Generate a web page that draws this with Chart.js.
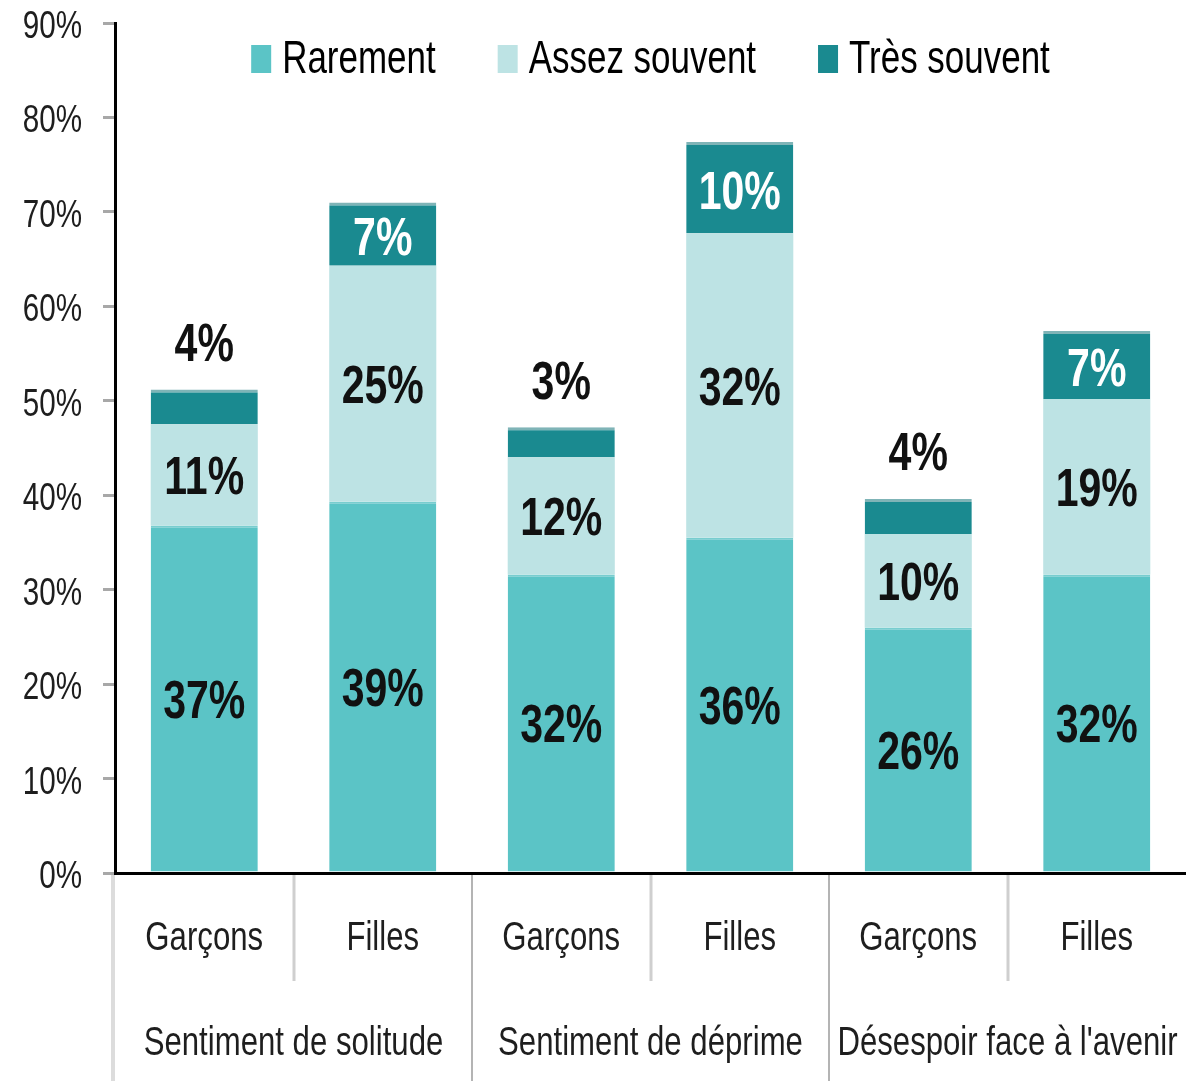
<!DOCTYPE html>
<html>
<head>
<meta charset="utf-8">
<script src="https://cdn.jsdelivr.net/npm/chart.js@4.4.1/dist/chart.umd.min.js"></script>
<style>
  html, body { margin: 0; padding: 0; background: #fff; }
  #wrap { width: 1186px; height: 1081px; position: relative; }
</style>
</head>
<body>
<div id="wrap"><canvas id="chart"></canvas></div>
<script>
// --- data ---
const categories = ['Garçons', 'Filles', 'Garçons', 'Filles', 'Garçons', 'Filles'];
const groups     = ['Sentiment de solitude', 'Sentiment de déprime', "Désespoir face à l'avenir"];
const rarement     = [36.8, 39.3, 31.6, 35.5, 26.0, 31.6];
const assezSouvent = [10.7, 25.0, 12.4, 32.2, 9.9, 18.6];
const tresSouvent  = [3.7, 6.7, 3.2, 9.7, 3.7, 7.2];
const yTicks = [0, 10, 20, 30, 40, 50, 60, 70, 80, 90];

const FONT = "'Liberation Sans', Arial, sans-serif";
const SQ = 0.76;          // horizontal squeeze, the original uses a narrow face
const TEXT = '#111111';

// draw condensed text, y is the middle of the capitals
function squeezeText(ctx, txt, x, y, size, bold, color, align) {
    ctx.save();
    ctx.font = (bold ? 'bold ' : '') + size + 'px ' + FONT;
    ctx.fillStyle = color;
    ctx.textAlign = align || 'center';
    ctx.textBaseline = 'alphabetic';
    ctx.translate(x, y + size * 0.358);
    ctx.scale(SQ, 1);
    ctx.fillText(txt, 0, 0);
    ctx.restore();
}
function textWidth(ctx, txt, size) {
    ctx.save();
    ctx.font = size + 'px ' + FONT;
    const w = ctx.measureText(txt).width * SQ;
    ctx.restore();
    return w;
}

// value labels on each segment
const segmentLabels = {
    id: 'segmentLabels',
    afterDatasetsDraw(chart) {
        const ctx = chart.ctx;
        chart.data.datasets.forEach((ds, di) => {
            const meta = chart.getDatasetMeta(di);
            meta.data.forEach((bar, i) => {
                const v = ds.data[i];
                const txt = Math.round(v) + '%';
                if (di === 2 && v < 5) {
                    squeezeText(ctx, txt, bar.x, bar.y - 48, 54, true, TEXT);
                } else if (di === 2) {
                    squeezeText(ctx, txt, bar.x, (bar.y + bar.base) / 2 + 2, 54, true, '#ffffff');
                } else {
                    squeezeText(ctx, txt, bar.x, (bar.y + bar.base) / 2, 54, true, TEXT);
                }
            });
        });
    }
};

// axis texts, separators and legend
const axisText = {
    id: 'axisText',
    afterDraw(chart) {
        const ctx = chart.ctx;
        const x = chart.scales.x;
        const y = chart.scales.y;
        const area = chart.chartArea;
        const n = categories.length;
        const step = (x.right - x.left) / n;

        // y tick labels
        y.ticks.forEach(t => {
            squeezeText(ctx, t.value + '%', 82, y.getPixelForValue(t.value) + 1, 39, false, '#1e1e1e', 'right');
        });

        // separators under the x axis
        ctx.save();
        for (let k = 0; k < n; k++) {
            const px = Math.round(x.left + step * k);
            ctx.beginPath();
            if (k === 0) {
                ctx.strokeStyle = '#dcdcdc'; ctx.lineWidth = 4;
                ctx.moveTo(px - 2, area.bottom + 2); ctx.lineTo(px - 2, chart.height);
            } else if (k % 2 === 0) {
                ctx.strokeStyle = '#b4b4b4'; ctx.lineWidth = 2;
                ctx.moveTo(px, area.bottom + 2); ctx.lineTo(px, chart.height);
            } else {
                ctx.strokeStyle = '#cfcfcf'; ctx.lineWidth = 3;
                ctx.moveTo(px, area.bottom + 2); ctx.lineTo(px, area.bottom + 108);
            }
            ctx.stroke();
        }
        ctx.restore();

        // category and group labels
        categories.forEach((c, i) => {
            squeezeText(ctx, c, x.getPixelForValue(i), area.bottom + 62, 41, false, '#1e1e1e');
        });
        groups.forEach((g, gi) => {
            const cx = (x.getPixelForValue(gi * 2) + x.getPixelForValue(gi * 2 + 1)) / 2;
            squeezeText(ctx, g, cx, area.bottom + 167, 41, false, '#1e1e1e');
        });

        // legend inside the plot, centred on the plot area
        const LS = 46, BOX_W = 20, BOX_H = 28, GAP = 11, SPACE = 62;
        const items = chart.data.datasets.map(ds => ({
            label: ds.label, color: ds.backgroundColor, w: BOX_W + GAP + textWidth(ctx, ds.label, LS)
        }));
        const total = items.reduce((s, it) => s + it.w, 0) + SPACE * (items.length - 1);
        let lx = (area.left + area.right) / 2 - total / 2;
        const base = 73;
        items.forEach(it => {
            ctx.fillStyle = it.color;
            ctx.fillRect(lx, base - BOX_H, BOX_W, BOX_H);
            squeezeText(ctx, it.label, lx + BOX_W + GAP, base - LS * 0.358, LS, false, '#000', 'left');
            lx += it.w + SPACE;
        });
    }
};

new Chart(document.getElementById('chart'), {
    type: 'bar',
    data: {
        labels: categories,
        datasets: [
            { label: 'Rarement',      data: rarement,     backgroundColor: '#5bc4c6',
              borderColor: '#78cdcf', borderWidth: { top: 2, left: 0, right: 0, bottom: 0 }, borderSkipped: 'bottom' },
            { label: 'Assez souvent', data: assezSouvent, backgroundColor: '#bde3e4' },
            { label: 'Très souvent',  data: tresSouvent,  backgroundColor: '#1a8a90',
              borderColor: '#7fb4b7', borderWidth: { top: 3, left: 0, right: 0, bottom: 0 }, borderSkipped: 'bottom' }
        ]
    },
    options: {
        responsive: true,
        maintainAspectRatio: false,
        animation: false,
        datasets: { bar: { barPercentage: 0.6, categoryPercentage: 1.0 } },
        layout: { padding: { top: 23, right: 0, left: 0, bottom: 0 } },
        plugins: {
            tooltip: { enabled: false },
            legend: { display: false }
        },
        scales: {
            x: {
                stacked: true,
                grid: { display: false, drawTicks: false },
                border: { display: true, color: '#000', width: 3 },
                ticks: { display: false },
                afterFit(scale) { scale.height = 208; }
            },
            y: {
                stacked: true,
                min: 0,
                max: 90,
                afterBuildTicks(scale) { scale.ticks = yTicks.map(v => ({ value: v })); },
                grid: { drawOnChartArea: false, color: '#a8a8a8', tickLength: 12, lineWidth: 3 },
                border: { display: true, color: '#000', width: 3 },
                ticks: { display: false },
                afterFit(scale) { scale.width = 115; }
            }
        }
    },
    plugins: [segmentLabels, axisText]
});
</script>
</body>
</html>
